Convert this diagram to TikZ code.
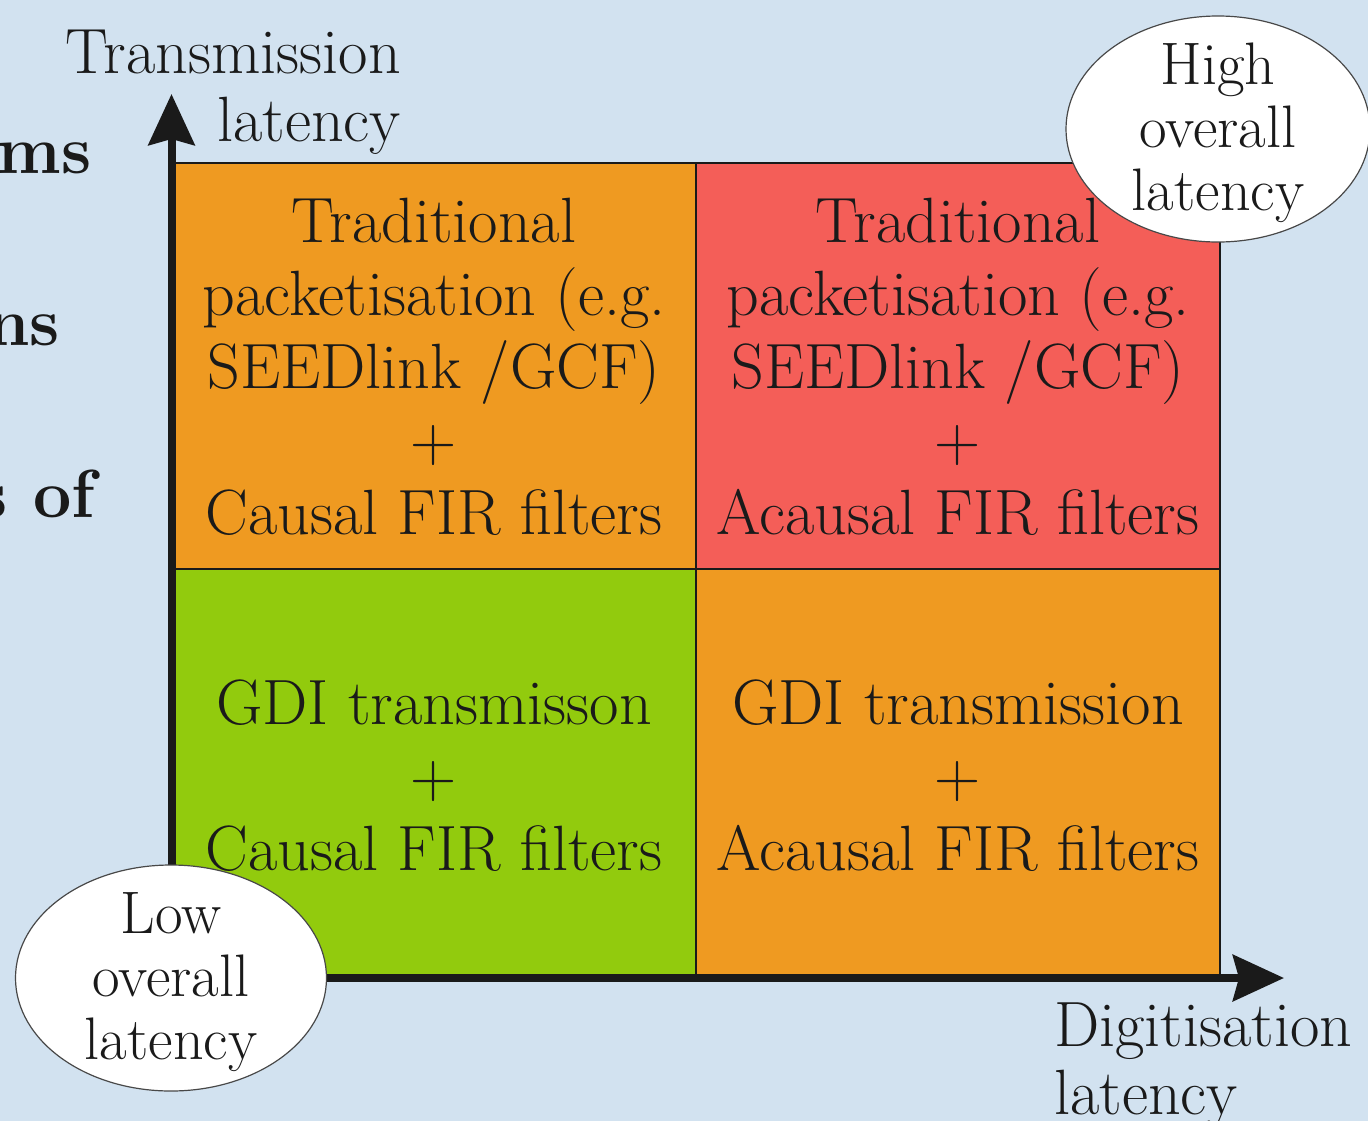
\documentclass[tikz,border=0pt]{standalone}
\usetikzlibrary{arrows.meta,shapes.geometric}
\definecolor{bgblue}{HTML}{D2E2F0}
\definecolor{cellorange}{HTML}{EF9A21}
\definecolor{cellred}{HTML}{F45E58}
\definecolor{cellgreen}{HTML}{92CB0D}
\definecolor{ink}{HTML}{1A1A1A}
\tikzset{
  celltext/.style={align=center, text=ink, inner sep=0pt,
    font=\fontsize{64}{73}\selectfont},
  axislabel/.style={text=ink, inner sep=0pt,
    font=\fontsize{64}{68}\selectfont},
  bubble/.style={ellipse, draw=ink!80, line width=1.2pt, fill=white,
    inner sep=0pt, minimum height=226pt},
  bubbletext/.style={align=center, text=ink, inner sep=0pt,
    font=\fontsize{60}{63}\selectfont},
  sidetext/.style={anchor=base east, text=ink, inner sep=0pt,
    font=\fontsize{68}{80}\selectfont\bfseries},
  gridline/.style={draw=ink, line width=2pt},
  axisline/.style={draw=ink, line width=8pt,
    {Stealth[length=51pt,width=46pt,inset=6pt]}-{Stealth[length=51pt,width=46pt,inset=6pt]}}
}
\begin{document}
\begin{tikzpicture}[x=1pt,y=-1pt]
\useasboundingbox (0,0) rectangle (1368,1120);
\fill[bgblue] (-20,-20) rectangle (1388,1140);
\clip (0,0) rectangle (1368,1120);

% text of the neighbouring column, cut by the edge
\node[sidetext] (s1) at (92,173) {ms};
\node[sidetext] (s2) at (60,345) {ns};
\node[sidetext] (s3) at (95,517) {s of};

% quadrants
\fill[cellorange] (172,163) rectangle (696,569);
\fill[cellred]    (696,163) rectangle (1220,569);
\fill[cellgreen]  (172,569) rectangle (696,976);
\fill[cellorange] (696,569) rectangle (1220,976);
\draw[gridline] (172,163) -- (1220,163) -- (1220,976);
\draw[gridline] (696,163) -- (696,976);
\draw[gridline] (172,569) -- (1220,569);

% axes
\coordinate (ytip) at (171.5,94);
\coordinate (xtip) at (1284,978);
\draw[axisline] (ytip) |- (xtip);

% axis labels
\node[axislabel, align=right, anchor=north east] (ylab) at (401,30)
  {Transmission\\latency};
\node[axislabel, align=left, anchor=north west] (xlab) at (1054,1003)
  {Digitisation\\latency};

% quadrant contents
\node[celltext] (tl) at (434,367)
  {Traditional\\packetisation (e.g.\\SEEDlink /GCF)\\+\\Causal FIR filters};
\node[celltext] (tr) at (958,367)
  {Traditional\\packetisation (e.g.\\SEEDlink /GCF)\\+\\Acausal FIR filters};
\node[celltext] (bl) at (434,776)
  {GDI transmisson\\+\\Causal FIR filters};
\node[celltext] (br) at (958,776)
  {GDI transmission\\+\\Acausal FIR filters};

% corner bubbles
\node[bubble, minimum width=311pt] (low) at (171,978) {};
\node[bubbletext] (lowtext) at ([yshift=-4pt]low.center) {Low\\overall\\latency};
\node[bubble, minimum width=304pt] (high) at (1218,129) {};
\node[bubbletext] (hightext) at ([yshift=-4pt]high.center) {High\\overall\\latency};
\end{tikzpicture}
\end{document}
